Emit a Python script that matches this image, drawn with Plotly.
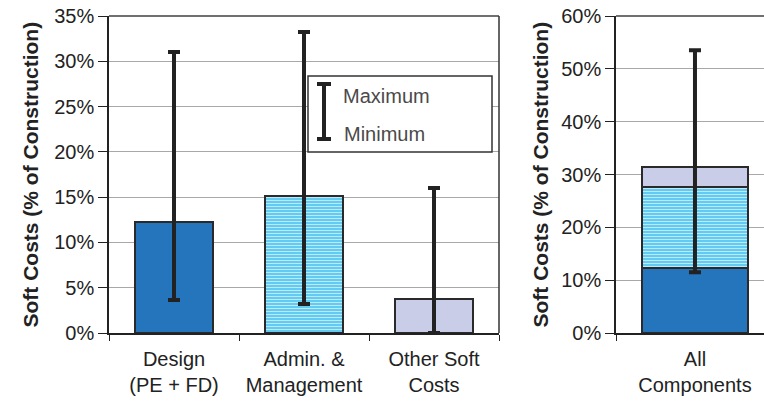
import plotly.graph_objects as go

# ---- data ----
categories = ["Design<br>(PE + FD)", "Admin. &<br>Management", "Other Soft<br>Costs"]
mean_vals = [12.3, 15.1, 3.8]
min_vals = [3.6, 3.2, 0.0]
max_vals = [31.0, 33.2, 16.0]

all_label = ["All<br>Components"]
stack_vals = [12.3, 15.3, 3.8]   # design, admin, other
all_min = 11.5
all_max = 53.5

left_ticks = [0, 5, 10, 15, 20, 25, 30, 35]
right_ticks = [0, 10, 20, 30, 40, 50, 60]

# ---- styles ----
W, H = 764, 406
MT, MB = 16, 73
PH = H - MT - MB
FONT = "Liberation Sans, Arial, sans-serif"
colors = ["#2475BB", "#62CBF2", "#C9CDE8"]
line_col = "#2a2a2a"
err_col = "#222222"

def px(x):
    return x / W

def py(y):
    return 1 - (y - MT) / PH

def bar_marker(i):
    m = dict(color=colors[i], line=dict(color=line_col, width=2))
    if i == 1:
        m["pattern"] = dict(shape="-", fgcolor="#BDEAFA", bgcolor=colors[1],
                            size=3, solidity=0.35, fillmode="replace")
    return m

fig = go.Figure()

# left panel: one trace per category
for i, c in enumerate(categories):
    fig.add_trace(go.Bar(
        x=[c], y=[mean_vals[i]], xaxis="x", yaxis="y", width=0.6,
        marker=bar_marker(i), showlegend=False,
        error_y=dict(type="data", symmetric=False,
                     array=[max_vals[i] - mean_vals[i]],
                     arrayminus=[mean_vals[i] - min_vals[i]],
                     color=err_col, thickness=4, width=6),
    ))

# right panel: stacked
for i, v in enumerate(stack_vals):
    fig.add_trace(go.Bar(
        x=all_label, y=[v], xaxis="x2", yaxis="y2", width=0.677,
        marker=bar_marker(i), showlegend=False,
    ))
total = sum(stack_vals)
fig.add_trace(go.Scatter(
    x=all_label, y=[total], xaxis="x2", yaxis="y2", mode="markers",
    marker=dict(size=1, color="rgba(0,0,0,0)"), showlegend=False,
    error_y=dict(type="data", symmetric=False,
                 array=[all_max - total], arrayminus=[total - all_min],
                 color=err_col, thickness=4, width=6),
))

tickfont = dict(family=FONT, size=20, color="#222")

fig.update_layout(
    width=W, height=H, barmode="stack",
    margin=dict(l=0, r=0, t=MT, b=MB),
    paper_bgcolor="white", plot_bgcolor="white",
    font=dict(family=FONT, size=20, color="#222"),
    xaxis=dict(domain=[px(109), px(499)], range=[-0.5, 2.5], type="category",
               showline=True, linecolor="#222", linewidth=1.5,
               ticks="outside", tickson="boundaries", ticklen=6,
               ticklabelstandoff=7,
               tickcolor="#222", tickfont=tickfont, anchor="y"),
    yaxis=dict(range=[0, 35], tickmode="array", tickvals=left_ticks,
               ticktext=[f"{t}%" for t in left_ticks],
               showgrid=True, gridcolor="#a8a8a8", gridwidth=1,
               showline=True, linecolor="#222", linewidth=1.5,
               ticks="outside", ticklen=9, tickcolor="#222",
               tickfont=tickfont, anchor="x", zeroline=False),
    xaxis2=dict(domain=[px(616), 1.0], range=[-0.5, 0.437], type="category",
                showline=True, linecolor="#222", linewidth=1.5,
                ticks="outside", tickson="boundaries", ticklen=6,
                ticklabelstandoff=7,
                tickcolor="#222", tickfont=tickfont, anchor="y2"),
    yaxis2=dict(range=[0, 60], tickmode="array", tickvals=right_ticks,
                ticktext=[f"{t}%" for t in right_ticks],
                showgrid=True, gridcolor="#a8a8a8", gridwidth=1,
                showline=True, linecolor="#222", linewidth=1.5,
                ticks="outside", ticklen=9, tickcolor="#222",
                tickfont=tickfont, anchor="x2", zeroline=False),
)

shapes = []
# top borders and left panel right border
shapes.append(dict(type="line", xref="x domain", yref="y domain", x0=0, x1=1, y0=1, y1=1,
                   line=dict(color="#707070", width=2)))
shapes.append(dict(type="line", xref="x domain", yref="y domain", x0=1, x1=1, y0=0, y1=1,
                   line=dict(color="#333", width=1.5)))
shapes.append(dict(type="line", xref="x2 domain", yref="y2 domain", x0=0, x1=1, y0=1, y1=1,
                   line=dict(color="#707070", width=2)))
# legend box
shapes.append(dict(type="rect", xref="paper", yref="paper",
                   x0=px(308), x1=px(492), y0=py(152), y1=py(76),
                   line=dict(color="#333", width=1.5), fillcolor="white"))
shapes.append(dict(type="line", xref="paper", yref="paper",
                   x0=px(324), x1=px(324), y0=py(139), y1=py(84),
                   line=dict(color=err_col, width=4)))
for yy in (84, 139):
    shapes.append(dict(type="line", xref="paper", yref="paper",
                       x0=px(317), x1=px(331), y0=py(yy), y1=py(yy),
                       line=dict(color=err_col, width=4)))

annotations = [
    dict(text="Maximum", xref="paper", yref="paper", x=px(341), y=py(96),
         xanchor="left", yanchor="middle", showarrow=False,
         font=dict(family=FONT, size=20, color="#4a4a4a")),
    dict(text="Minimum", xref="paper", yref="paper", x=px(342), y=py(134),
         xanchor="left", yanchor="middle", showarrow=False,
         font=dict(family=FONT, size=20, color="#4a4a4a")),
    dict(text="<b>Soft Costs (% of Construction)</b>", xref="paper", yref="paper",
         x=px(30), y=0.5, textangle=-90, showarrow=False, xanchor="center", yanchor="middle",
         font=dict(family=FONT, size=21, color="#222")),
    dict(text="<b>Soft Costs (% of Construction)</b>", xref="paper", yref="paper",
         x=px(540), y=0.5, textangle=-90, showarrow=False, xanchor="center", yanchor="middle",
         font=dict(family=FONT, size=21, color="#222")),
]

fig.update_layout(shapes=shapes, annotations=annotations)
fig.write_html("out.html", config={"displayModeBar": False},
               post_script="document.body.style.margin='0';document.body.style.padding='0';")
